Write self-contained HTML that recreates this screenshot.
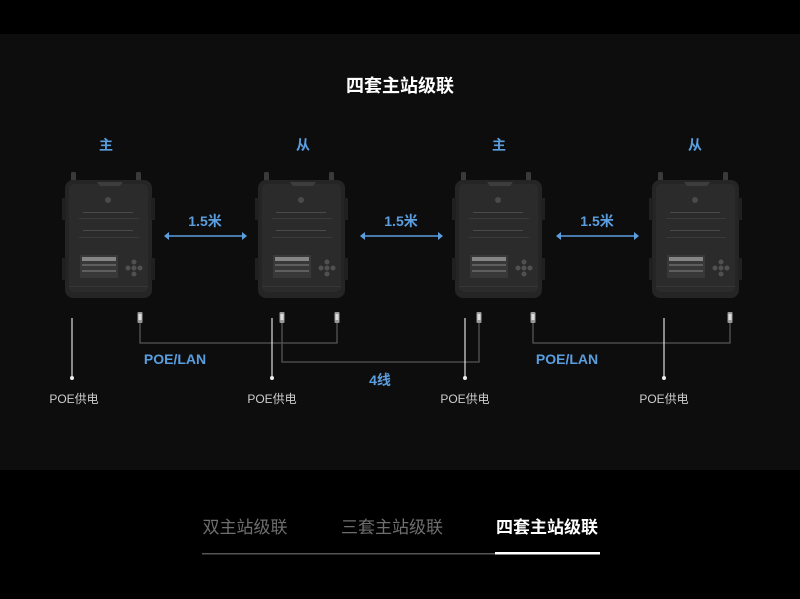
<!DOCTYPE html>
<html><head><meta charset="utf-8"><style>
html,body{margin:0;padding:0;background:#000;width:800px;height:599px;overflow:hidden}
svg{display:block}
text{font-family:"Liberation Sans","Noto Sans CJK SC",sans-serif}
</style></head><body>
<svg width="800" height="599" viewBox="0 0 800 599" xmlns="http://www.w3.org/2000/svg">
<defs>
<g id="dev">
  <rect x="6" y="-8" width="5" height="12" rx="1.5" fill="#3a3a3a"/>
  <rect x="71" y="-8" width="5" height="12" rx="1.5" fill="#3a3a3a"/>
  <rect x="0" y="0" width="87" height="118" rx="8" fill="#252525"/>
  <rect x="-3" y="18" width="4" height="22" fill="#202020"/>
  <rect x="86" y="18" width="4" height="22" fill="#202020"/>
  <rect x="-3" y="78" width="4" height="22" fill="#202020"/>
  <rect x="86" y="78" width="4" height="22" fill="#202020"/>
  <rect x="4" y="4" width="79" height="108" rx="5" fill="#2b2b2b"/>
  <path d="M32 2 h26 l-3 4 h-20z" fill="#3d3d3d"/>
  <g fill="#4a4a4a"><circle cx="43" cy="20" r="3"/><rect x="18" y="32" width="50" height="1"/><rect x="18" y="50" width="50" height="1"/>
  <rect x="14" y="38" width="60" height="1" opacity=".5"/><rect x="14" y="57" width="60" height="1" opacity=".5"/></g>
  <rect x="15" y="75" width="38" height="23" fill="#383838"/>
  <rect x="17" y="77" width="34" height="4" fill="#858585"/>
  <rect x="17" y="84" width="34" height="2" fill="#5e5e5e"/>
  <rect x="17" y="90" width="34" height="2" fill="#5e5e5e"/>
  <g fill="#505050"><circle cx="63" cy="88" r="2.5"/><circle cx="69" cy="82" r="2.5"/><circle cx="69" cy="88" r="2.5"/><circle cx="69" cy="94" r="2.5"/><circle cx="75" cy="88" r="2.5"/></g>
  <rect x="4" y="106" width="79" height="1" fill="#363636"/>
</g>
<g id="conn"><rect x="-2.5" y="0" width="5" height="11" rx="1" fill="#9a9a9a"/><rect x="-1.5" y="2" width="3" height="6" fill="#ddd"/></g>
</defs>
<rect x="0" y="34" width="800" height="436" fill="#0d0d0d"/>
<text x="400" y="92" fill="#fff" font-size="18" font-weight="bold" text-anchor="middle">四套主站级联</text>
<g fill="#5b9ee0" font-size="14" font-weight="bold" text-anchor="middle">
<text x="106" y="150">主</text><text x="303" y="150">从</text><text x="499" y="150">主</text><text x="695" y="150">从</text>
<text x="205" y="226">1.5米</text><text x="401" y="226">1.5米</text><text x="597" y="226">1.5米</text>
<text x="175" y="364">POE/LAN</text><text x="567" y="364">POE/LAN</text>
<text x="380" y="385">4线</text>
</g>
<g stroke="#5b9ee0" stroke-width="1.5">
<line x1="166" y1="236" x2="245" y2="236"/><line x1="362" y1="236" x2="441" y2="236"/><line x1="558" y1="236" x2="637" y2="236"/>
</g>
<g fill="#5b9ee0">
<path d="M164 236 l5 -4 v8z"/><path d="M247 236 l-5 -4 v8z"/>
<path d="M360 236 l5 -4 v8z"/><path d="M443 236 l-5 -4 v8z"/>
<path d="M556 236 l5 -4 v8z"/><path d="M639 236 l-5 -4 v8z"/>
</g>
<use href="#dev" x="65" y="180"/><use href="#dev" x="258" y="180"/><use href="#dev" x="455" y="180"/><use href="#dev" x="652" y="180"/>
<g fill="none" stroke="#555" stroke-width="1.3">
<path d="M140 323 V343 H337 V323"/>
<path d="M282 323 V362 H479 V323"/>
<path d="M533 323 V343 H730 V323"/>
</g>
<use href="#conn" x="140" y="312"/><use href="#conn" x="282" y="312"/><use href="#conn" x="337" y="312"/>
<use href="#conn" x="479" y="312"/><use href="#conn" x="533" y="312"/><use href="#conn" x="730" y="312"/>
<g stroke="#ddd" stroke-width="1.2">
<line x1="72" y1="318" x2="72" y2="378"/><line x1="272" y1="318" x2="272" y2="378"/><line x1="465" y1="318" x2="465" y2="378"/><line x1="664" y1="318" x2="664" y2="378"/>
</g>
<g fill="#eee"><circle cx="72" cy="378" r="2"/><circle cx="272" cy="378" r="2"/><circle cx="465" cy="378" r="2"/><circle cx="664" cy="378" r="2"/></g>
<g fill="#ccc" font-size="12" text-anchor="middle">
<text x="74" y="403">POE供电</text><text x="272" y="403">POE供电</text><text x="465" y="403">POE供电</text><text x="664" y="403">POE供电</text>
</g>
<g font-size="17" text-anchor="middle">
<text x="245" y="533" fill="#6e6e6e">双主站级联</text>
<text x="392" y="533" fill="#6e6e6e">三套主站级联</text>
<text x="547" y="533" fill="#fff" font-weight="bold">四套主站级联</text>
</g>
<rect x="202" y="553" width="398" height="1.5" fill="#555"/>
<rect x="495" y="552" width="105" height="2.5" fill="#fff"/>
</svg>
</body></html>
